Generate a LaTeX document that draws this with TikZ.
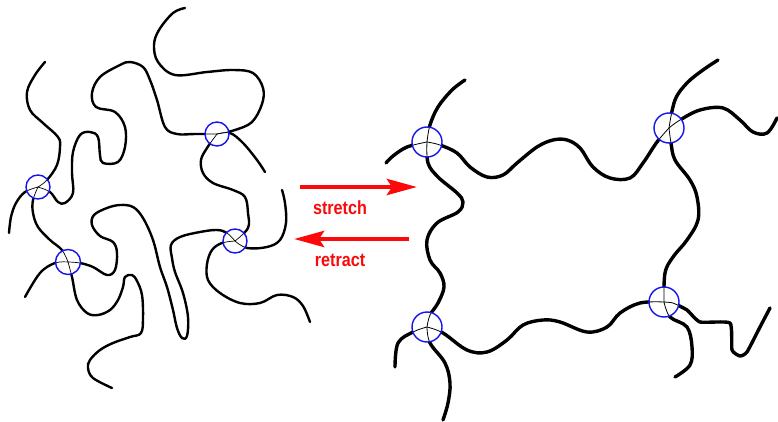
\documentclass[tikz,border=0pt]{standalone}
\usepackage{fontspec}
\setmainfont{Liberation Sans}
\usetikzlibrary{arrows.meta}
\definecolor{linkblue}{RGB}{20,20,235}
\definecolor{arrowred}{RGB}{250,10,10}
% relaxed network: chains meeting at four crosslinks
\newcommand\relaxedchains{%
  \draw plot[smooth,tension=0.6] coordinates {(185,8) (173,13) (159,30) (154,45) (158,62) (175,75) (207,72) (233,70) (253,73) (263,88) (262,104) (252,122) (235,130) (217,134)};
  \draw plot[smooth,tension=0.6] coordinates {(217,134) (195,134) (177,134) (165,127) (157,100) (150,80) (143,67) (130,62) (120,65) (100,77) (92,93) (96,107) (115,112) (125,127) (125,147) (118,162) (103,163) (100,155) (98,137) (90,132) (80,135) (73,152) (72,173) (73,193) (65,203) (58,202) (50,192) (38,187)};
  \draw plot[smooth,tension=0.6] coordinates {(45,62) (35,75) (27,92) (30,110) (43,123) (58,137) (60,147) (57,165) (47,180) (38,187)};
  \draw plot[smooth,tension=0.6] coordinates {(38,187) (25,192) (16,203) (11,217) (9,233)};
  \draw plot[smooth,tension=0.6] coordinates {(38,187) (33,200) (33,213) (38,227) (50,240) (62,250) (68,262)};
  \draw plot[smooth,tension=0.6] coordinates {(68,262) (55,263) (40,273) (25,297)};
  \draw plot[smooth,tension=0.6] coordinates {(68,262) (80,263) (93,267) (107,275) (115,270) (117,253) (113,242) (100,236) (92,225) (94,215) (107,208) (120,205) (133,207) (143,218) (153,240) (160,267) (167,287) (173,310) (177,328) (182,338) (187,336) (188,317) (183,293) (175,272) (172,258) (171,245) (180,237) (200,232) (217,230) (227,233) (235,241)};
  \draw plot[smooth,tension=0.6] coordinates {(68,262) (72,277) (77,300) (87,313) (98,315) (110,310) (118,300) (123,287) (125,277) (132,275) (137,281) (142,295) (143,318) (141,333) (130,337) (113,343) (100,350) (90,360) (88,368) (93,378) (112,388)};
  \draw plot[smooth,tension=0.6] coordinates {(217,134) (207,148) (201,160) (203,173) (213,183) (233,190) (245,197) (248,213) (248,228) (235,241)};
  \draw plot[smooth,tension=0.6] coordinates {(217,134) (230,133) (243,143) (257,160) (265,172)};
  \draw plot[smooth,tension=0.6] coordinates {(235,241) (247,248) (267,247) (280,240) (286,223) (285,203) (282,190)};
  \draw plot[smooth,tension=0.6] coordinates {(235,241) (222,243) (212,250) (207,264) (208,280) (220,293) (240,303) (260,303) (277,295) (293,297) (303,306) (310,322)};
}
% stretched network
\newcommand\stretchedchains{%
  \draw plot[smooth,tension=0.6] coordinates {(427,142) (430,125) (438,107) (452,90) (465,80)};
  \draw plot[smooth,tension=0.6] coordinates {(427,142) (407,147) (393,156) (386,163)};
  \draw plot[smooth,tension=0.6] coordinates {(427,142) (428,163) (438,177) (457,193) (463,202) (458,212) (437,223) (427,240) (430,260) (440,273) (444,287) (438,303) (430,315) (427,327)};
  \draw plot[smooth,tension=0.6] coordinates {(427,142) (440,145) (457,153) (470,167) (487,177) (503,175) (517,163) (537,147) (553,140) (567,140) (580,148) (593,167) (610,178) (630,178) (643,163) (657,142) (669,128)};
  \draw plot[smooth,tension=0.6] coordinates {(669,128) (675,100) (687,83) (703,70) (718,60)};
  \draw plot[smooth,tension=0.6] coordinates {(669,128) (680,120) (700,110) (723,108) (740,120) (753,132) (767,133) (777,118)};
  \draw plot[smooth,tension=0.6] coordinates {(669,128) (671,143) (675,160) (690,180) (697,197) (698,220) (687,240) (673,257) (665,273) (664,302)};
  \draw plot[smooth,tension=0.3] coordinates {(664,302) (673,303) (687,310) (700,322) (730,323) (732,350) (740,356) (747,352) (760,327) (770,308)};
  \draw plot[smooth,tension=0.6] coordinates {(664,302) (670,317) (687,327) (692,347) (690,365) (675,377)};
  \draw plot[smooth,tension=0.6] coordinates {(664,302) (640,303) (620,313) (607,327) (587,332) (560,322) (543,320) (523,325) (507,340) (487,352) (467,350) (443,333) (427,327)};
  \draw plot[smooth,tension=0.6] coordinates {(427,327) (413,332) (398,343) (395,367)};
  \draw plot[smooth,tension=0.6] coordinates {(427,327) (430,343) (445,363) (450,383) (448,403) (443,420)};
}
\tikzset{
  chain/.style={line width=2.4pt,line cap=round,line join=round},
  bigchain/.style={line width=3.4pt,line cap=round,line join=round},
  crosslink/.style={draw=linkblue,line width=1.4pt},
  flow/.style={draw=arrowred,line width=4.5pt,-{Stealth[length=30pt,width=16pt,inset=5pt]}},
  flowlabel/.style={text=arrowred,font=\bfseries\fontsize{19}{20}\selectfont,inner sep=0pt}
}
\begin{document}
\begin{tikzpicture}[x=1pt,y=-1pt]
\useasboundingbox (0,0) rectangle (778,422);
\fill[white] (0,0) rectangle (778,422);

% relaxed network
\begin{scope}[chain]
  \relaxedchains
\end{scope}
\foreach \p/\r in {{(217,134)}/12,{(38,187)}/12,{(68,262)}/12.5,{(235,241)}/12}{
  \begin{scope}
    \clip \p circle (\r);
    \fill[white] \p circle (\r);
    \begin{scope}[line width=0.7pt]
      \relaxedchains
    \end{scope}
  \end{scope}
  \draw[crosslink] \p circle (\r);
}

% stretched network
\begin{scope}[bigchain]
  \stretchedchains
\end{scope}
\foreach \p in {{(427,142)},{(669,128)},{(427,327)},{(664,302)}}{
  \begin{scope}
    \clip \p circle (15);
    \fill[white] \p circle (15);
    \begin{scope}[line width=0.8pt]
      \stretchedchains
    \end{scope}
  \end{scope}
  \draw[crosslink] \p circle (15);
}

% stretch / retract arrows
\coordinate (s0) at (300,187);
\coordinate (s1) at (417,187);
\coordinate (r0) at (409,239);
\coordinate (r1) at (294,239);
\draw[flow] (s0) -- (s1);
\draw[flow] (r0) -- (r1);
\node[flowlabel] (stretch) at (340,208) {\scalebox{0.85}[1]{stretch}};
\node[flowlabel] (retract) at (340,260) {\scalebox{0.85}[1]{retract}};
\end{tikzpicture}
\end{document}
